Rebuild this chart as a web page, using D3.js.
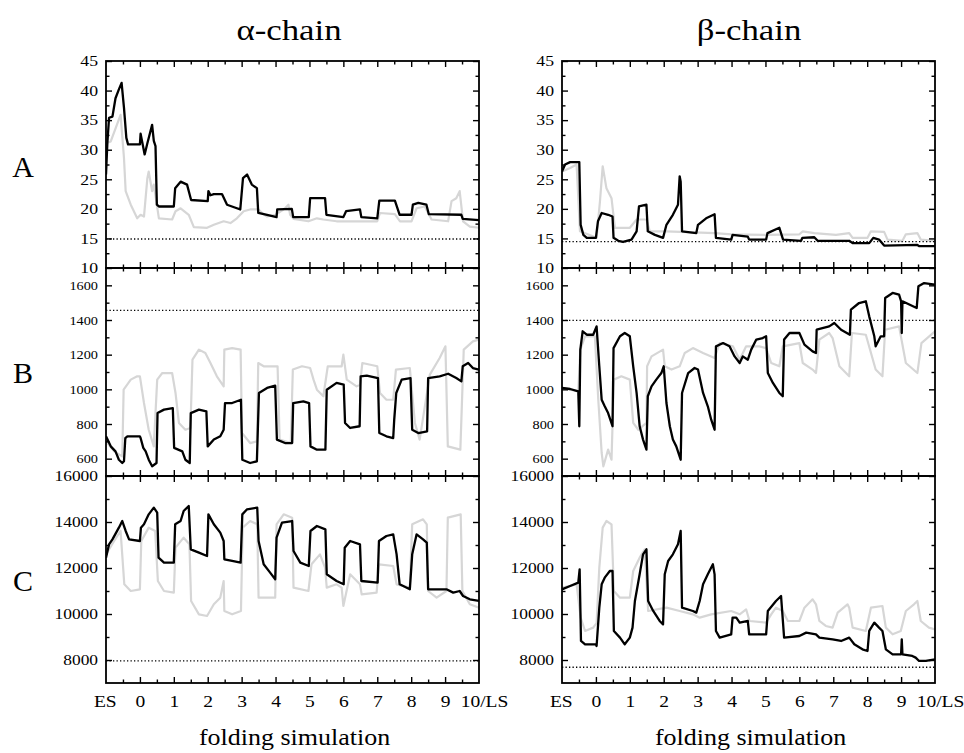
<!DOCTYPE html>
<html>
<head>
<meta charset="utf-8">
<script src="https://cdn.jsdelivr.net/npm/d3@7"></script>
<style>
  body { margin: 0; background: #fff; }
  svg text { font-family: "Liberation Serif", "Times New Roman", serif; fill: #000; }
</style>
</head>
<body>
<div id="chart"></div>
<script>
// x axis: ES = -1, folding simulations 0..9, LS = 10
const xTickValues = [-1, 0, 1, 2, 3, 4, 5, 6, 7, 8, 9, 10]
const xTickLabels = ['ES', '0', '1', '2', '3', '4', '5', '6', '7', '8', '9', '10/LS']
const xMinorTicks = [-0.5, 0.5, 1.5, 2.5, 3.5, 4.5, 5.5, 6.5, 7.5, 8.5, 9.5]

const rowLabels = ['A', 'B', 'C']
const chainTitles = ['α-chain', 'β-chain']

// y axes per row
const yDomainA = [10, 45]
const yTicksA = [10, 15, 20, 25, 30, 35, 40, 45]
const yMinorA = [12.5, 17.5, 22.5, 27.5, 32.5, 37.5, 42.5]
const yDomainB = [500, 1700]
const yTicksB = [600, 800, 1000, 1200, 1400, 1600]
const yMinorB = [700, 900, 1100, 1300, 1500]
const yDomainC = [7000, 16000]
const yTicksC = [8000, 10000, 12000, 14000, 16000]
const yMinorC = [9000, 11000, 13000, 15000]

// dotted reference levels [alpha, beta]
const refA = [14.9, 14.45]
const refB = [1456, 1398]
const refC = [7960, 7685]

// ---- alpha chain ----
const alphaA_black = [[-1.00,25.8],[-0.96,31.1],[-0.91,35.4],[-0.81,35.6],[-0.72,38.7],[-0.62,40.2],[-0.54,41.3],[-0.47,37.1],[-0.40,32.0],[-0.35,30.9],[0.00,30.9],[0.02,32.7],[0.14,29.2],[0.22,31.1],[0.36,34.2],[0.41,31.5],[0.46,30.6],[0.50,20.7],[0.56,20.4],[1.00,20.4],[1.04,23.5],[1.20,24.6],[1.39,24.1],[1.51,21.5],[2.00,21.3],[2.02,23.0],[2.08,22.3],[2.18,22.5],[2.42,22.5],[2.57,20.7],[2.86,20.1],[2.96,19.9],[3.04,25.2],[3.16,25.8],[3.30,24.1],[3.45,23.5],[3.49,19.3],[3.75,19.0],[4.03,18.6],[4.05,19.9],[4.48,20.0],[4.52,18.6],[4.98,18.6],[5.02,21.8],[5.46,21.8],[5.50,19.0],[6.00,18.6],[6.08,19.6],[6.49,19.9],[6.53,18.6],[7.00,18.4],[7.06,21.4],[7.52,21.4],[7.66,19.0],[8.01,19.0],[8.05,20.7],[8.21,21.0],[8.45,20.7],[8.52,19.1],[9.48,19.0],[9.52,18.3],[10.00,18.1]]
const alphaA_gray = [[-1.00,31.1],[-0.86,31.4],[-0.57,35.9],[-0.47,28.6],[-0.42,23.0],[-0.27,20.7],[-0.08,18.4],[0.02,19.0],[0.12,18.7],[0.22,25.2],[0.26,26.3],[0.36,23.0],[0.41,24.1],[0.56,18.4],[0.95,18.2],[1.05,19.6],[1.20,20.1],[1.44,19.0],[1.59,16.9],[1.98,16.8],[2.18,17.3],[2.47,17.9],[2.67,17.6],[2.86,18.4],[3.06,19.6],[3.25,19.9],[3.50,19.9],[3.60,19.3],[3.75,18.7],[4.00,19.0],[4.24,19.9],[4.38,20.7],[4.43,19.0],[4.53,18.3],[4.97,17.9],[5.22,18.4],[5.41,18.2],[5.80,17.9],[7.00,17.9],[7.08,19.3],[7.52,19.1],[7.67,17.9],[8.01,17.9],[8.16,20.1],[8.40,20.4],[8.60,18.2],[9.09,17.9],[9.19,21.3],[9.33,21.8],[9.43,23.0],[9.53,17.9],[9.73,17.0],[10.00,16.8]]
const alphaB_black = [[-1.00,729],[-0.86,671],[-0.72,642],[-0.62,594],[-0.52,575],[-0.47,585],[-0.43,719],[-0.37,729],[0.00,729],[0.02,719],[0.10,662],[0.17,642],[0.26,594],[0.36,556],[0.49,575],[0.52,863],[0.71,883],[0.97,892],[1.01,662],[1.25,642],[1.34,594],[1.47,575],[1.50,863],[1.74,883],[1.96,873],[2.00,671],[2.18,710],[2.37,729],[2.47,767],[2.51,921],[2.72,921],[2.98,940],[3.02,594],[3.25,575],[3.45,585],[3.51,979],[3.75,1008],[3.99,1021],[4.04,710],[4.28,690],[4.49,690],[4.52,921],[4.82,931],[4.99,921],[5.03,671],[5.22,652],[5.47,652],[5.51,998],[5.80,1037],[6.01,1027],[6.05,806],[6.20,777],[6.48,787],[6.51,1075],[6.69,1079],[7.02,1065],[7.06,748],[7.27,729],[7.47,719],[7.50,825],[7.56,979],[7.72,1056],[7.98,1065],[8.03,767],[8.21,748],[8.47,758],[8.50,1065],[8.84,1075],[9.09,1090],[9.33,1065],[9.48,1046],[9.52,1133],[9.68,1152],[9.82,1123],[10.00,1114]]
const alphaB_gray = [[-1.00,700],[-0.76,642],[-0.52,613],[-0.48,998],[-0.27,1056],[-0.08,1075],[0.00,1075],[0.12,921],[0.26,767],[0.41,671],[0.51,1056],[0.66,1094],[0.95,1094],[1.05,979],[1.15,806],[1.34,767],[1.49,777],[1.55,1171],[1.74,1229],[1.93,1210],[2.08,1152],[2.27,1075],[2.47,1017],[2.49,1229],[2.72,1238],[2.97,1229],[3.01,748],[3.25,690],[3.45,700],[3.49,1152],[3.65,1133],[4.06,1133],[4.12,710],[4.45,690],[4.51,1114],[4.78,1133],[5.02,1123],[5.12,1056],[5.22,998],[5.41,960],[5.54,1133],[5.95,1133],[6.00,1200],[6.10,1056],[6.39,1017],[6.49,1027],[6.56,1152],[7.00,1133],[7.08,979],[7.27,940],[7.47,940],[7.55,1114],[7.96,1123],[8.11,806],[8.25,710],[8.55,1085],[8.84,1181],[9.01,1248],[9.08,671],[9.45,652],[9.55,1229],[9.82,1277],[10.00,1287]]
const alphaC_black = [[-1.00,12450],[-0.91,13029],[-0.81,13247],[-0.62,13754],[-0.52,14043],[-0.42,13609],[-0.32,13247],[0.00,13174],[0.03,13754],[0.12,13899],[0.26,14333],[0.41,14623],[0.51,14406],[0.55,12450],[0.71,12232],[1.00,12232],[1.04,13899],[1.20,14043],[1.29,14478],[1.44,14696],[1.50,12812],[1.74,12667],[1.98,12522],[2.02,14333],[2.18,13899],[2.37,13536],[2.47,13174],[2.49,12377],[2.72,12305],[2.97,12232],[3.02,14333],[3.16,14551],[3.46,14623],[3.50,13174],[3.65,12160],[3.84,11797],[3.99,11508],[4.03,13319],[4.19,13971],[4.49,14043],[4.53,12739],[4.73,12232],[4.98,12087],[5.03,13609],[5.22,13826],[5.47,13681],[5.51,11725],[5.80,11435],[6.01,11290],[6.04,12884],[6.20,13174],[6.49,13029],[6.53,11435],[7.01,11363],[7.05,13174],[7.27,13391],[7.47,13464],[7.57,12594],[7.66,11290],[7.96,11073],[8.03,12594],[8.16,13464],[8.35,13247],[8.46,13102],[8.50,11073],[9.04,11073],[9.24,10928],[9.43,11000],[9.53,10783],[9.73,10638],[10.00,10566]]
const alphaC_gray = [[-1.00,12594],[-0.76,13174],[-0.57,13609],[-0.46,11290],[-0.27,11000],[0.00,11073],[0.04,13174],[0.26,13754],[0.45,13609],[0.53,11435],[0.71,11000],[1.00,10928],[1.05,12884],[1.29,13319],[1.46,13029],[1.51,10566],[1.74,9986],[1.98,9914],[2.18,10421],[2.37,10711],[2.47,11435],[2.49,10131],[2.72,9986],[2.98,10131],[3.03,13754],[3.25,14043],[3.46,13899],[3.50,10711],[3.99,10711],[4.03,13899],[4.24,14333],[4.49,14188],[4.53,11145],[4.97,11000],[5.06,12160],[5.31,12594],[5.46,12015],[5.51,11145],[5.80,11290],[5.95,11145],[6.00,10348],[6.20,11725],[6.49,11290],[6.54,10856],[6.98,10928],[7.05,12160],[7.47,12087],[7.57,11290],[7.96,11145],[8.03,13899],[8.35,14116],[8.46,13899],[8.50,11000],[8.75,10711],[9.04,11000],[9.08,14188],[9.46,14333],[9.51,11000],[9.73,10421],[10.00,10276]]

// ---- beta chain ----
const betaA_black = [[-1.00,26.3],[-0.91,27.5],[-0.76,27.9],[-0.49,27.9],[-0.45,17.3],[-0.37,15.6],[-0.27,15.1],[0.00,15.1],[0.06,17.9],[0.17,19.3],[0.36,19.0],[0.49,18.7],[0.52,15.1],[0.66,14.6],[0.80,14.4],[1.05,14.8],[1.20,16.2],[1.27,20.4],[1.49,20.7],[1.53,16.2],[1.74,15.6],[1.98,15.1],[2.08,17.3],[2.27,19.0],[2.42,20.7],[2.47,25.5],[2.50,24.6],[2.54,16.2],[2.96,15.9],[3.01,17.3],[3.25,18.4],[3.50,19.1],[3.54,15.1],[3.99,14.8],[4.03,15.6],[4.48,15.3],[4.52,14.8],[5.02,14.8],[5.06,15.9],[5.41,16.8],[5.52,14.8],[6.05,14.6],[6.09,15.1],[6.44,15.2],[6.54,14.6],[7.47,14.6],[7.57,14.2],[8.06,14.2],[8.18,15.1],[8.35,14.8],[8.50,13.8],[9.48,13.9],[9.53,13.7],[10.00,13.7]]
const betaA_gray = [[-1.00,26.3],[-0.76,26.9],[-0.57,27.5],[-0.47,16.2],[0.02,15.1],[0.12,21.3],[0.20,27.2],[0.31,23.5],[0.46,21.8],[0.56,16.8],[1.00,16.8],[1.20,18.2],[1.49,18.2],[1.59,16.2],[2.08,16.2],[3.50,15.9],[4.00,15.7],[5.00,15.6],[6.00,15.7],[6.10,16.2],[6.44,15.9],[7.08,15.6],[7.47,15.9],[7.57,15.1],[8.01,15.1],[8.11,16.2],[8.50,16.1],[8.60,14.8],[9.04,14.6],[9.14,15.7],[9.48,15.9],[9.58,14.8],[10.00,14.6]]
const betaB_black = [[-1.00,1008],[-0.76,1002],[-0.52,988],[-0.49,787],[-0.46,1229],[-0.39,1335],[-0.27,1315],[-0.08,1315],[0.02,1363],[0.10,1133],[0.17,940],[0.26,902],[0.36,863],[0.49,787],[0.52,1238],[0.71,1306],[0.85,1325],[1.00,1306],[1.10,1133],[1.20,979],[1.29,787],[1.39,710],[1.49,652],[1.53,960],[1.64,1017],[1.78,1056],[1.93,1094],[2.00,1133],[2.08,921],[2.18,787],[2.27,710],[2.37,671],[2.50,594],[2.54,979],[2.72,1094],[2.91,1123],[3.01,1114],[3.16,979],[3.30,902],[3.40,825],[3.50,767],[3.54,1248],[3.75,1267],[3.94,1248],[4.09,1190],[4.24,1152],[4.33,1190],[4.48,1171],[4.58,1229],[4.73,1287],[4.92,1296],[5.02,1306],[5.07,1094],[5.22,1037],[5.41,979],[5.51,960],[5.55,1287],[5.71,1325],[6.00,1325],[6.15,1258],[6.39,1219],[6.49,1210],[6.51,1344],[6.88,1363],[7.03,1383],[7.23,1344],[7.49,1315],[7.52,1460],[7.76,1498],[7.96,1508],[8.06,1421],[8.21,1306],[8.25,1248],[8.40,1306],[8.50,1306],[8.53,1527],[8.75,1556],[8.94,1546],[9.00,1508],[9.02,1325],[9.04,1508],[9.46,1469],[9.51,1594],[9.68,1613],[10.00,1604]]
const betaB_gray = [[-1.00,1008],[-0.52,988],[-0.46,1229],[-0.32,1306],[-0.03,1306],[0.07,940],[0.17,633],[0.22,556],[0.36,652],[0.46,594],[0.53,1056],[0.75,1075],[1.00,1056],[1.10,806],[1.25,767],[1.49,806],[1.51,1133],[1.64,1190],[1.98,1229],[2.03,1133],[2.23,1114],[2.47,1133],[2.62,1210],[2.86,1238],[3.16,1210],[3.50,1181],[3.65,1267],[4.04,1248],[4.24,1171],[4.43,1248],[4.82,1248],[5.02,1238],[5.17,1152],[5.41,1133],[5.51,1248],[6.00,1267],[6.10,1152],[6.39,1114],[6.49,1094],[6.59,1287],[6.88,1325],[6.98,1296],[7.18,1133],[7.47,1075],[7.55,1325],[7.96,1315],[8.25,1114],[8.45,1075],[8.53,1344],[8.94,1363],[9.14,1152],[9.48,1094],[9.60,1267],[10.00,1335]]
const betaC_black = [[-1.00,11073],[-0.76,11218],[-0.52,11363],[-0.48,11942],[-0.44,8827],[-0.32,8682],[0.00,8682],[0.02,8610],[0.10,10276],[0.17,11290],[0.26,11580],[0.41,11870],[0.49,11870],[0.53,9262],[0.71,8972],[0.85,8682],[1.00,8972],[1.08,9407],[1.15,10566],[1.29,11725],[1.39,12594],[1.49,12812],[1.54,10566],[1.69,10131],[1.88,9696],[1.98,9551],[2.03,11725],[2.13,12305],[2.27,12594],[2.42,13029],[2.50,13609],[2.54,10276],[2.86,10131],[2.96,10059],[3.06,10566],[3.16,11290],[3.30,11725],[3.45,12160],[3.50,11725],[3.54,9262],[3.65,8972],[3.99,9117],[4.03,9841],[4.14,9841],[4.24,9624],[4.48,9696],[4.52,9117],[5.02,9117],[5.07,10131],[5.31,10566],[5.46,10783],[5.55,8972],[6.00,9044],[6.20,9189],[6.49,9117],[6.59,8972],[6.98,8899],[7.23,8827],[7.47,8972],[7.62,8682],[7.86,8465],[8.01,8392],[8.06,9262],[8.21,9624],[8.35,9407],[8.45,9262],[8.55,8465],[8.75,8247],[9.00,8247],[9.02,8900],[9.04,8247],[9.33,8175],[9.43,8103],[9.53,7958],[9.73,7958],[10.00,8030]]
const betaC_gray = [[-1.00,11145],[-0.57,11290],[-0.45,9841],[-0.32,9262],[-0.08,9407],[0.02,9600],[0.10,12015],[0.20,13754],[0.31,14043],[0.46,13899],[0.53,11000],[0.71,10711],[1.00,10711],[1.10,11870],[1.29,12450],[1.44,12812],[1.54,10131],[2.08,10276],[2.47,10131],[2.86,9986],[3.06,9841],[3.40,9986],[3.99,10131],[4.24,9986],[4.43,10204],[4.53,9696],[5.02,9624],[5.17,9986],[5.31,10276],[5.51,10131],[5.66,9696],[6.00,9696],[6.15,10276],[6.39,10638],[6.49,10421],[6.59,9696],[6.78,9479],[6.98,9407],[7.13,10059],[7.42,10421],[7.47,10276],[7.57,9407],[7.96,9262],[8.11,10276],[8.45,10348],[8.55,9407],[8.75,9117],[8.99,9262],[9.14,10131],[9.38,10421],[9.48,10566],[9.58,9696],[9.82,9407],[10.00,9334]]

// ---- layout ----
const [width, height] = [964, 753]
const cols = [{ x0: 106, x1: 479, titleX: 289 }, { x0: 562, x1: 935, titleX: 749 }]
const rowsPx = [
    { top: 61, bottom: 268, labelY: 177, tickFont: 15, tickStretch: 1.18 },
    { top: 268, bottom: 476, labelY: 383, tickFont: 13, tickStretch: 1.1 },
    { top: 476, bottom: 683, labelY: 591, tickFont: 15, tickStretch: 1.16 }
]

const rowAxes = [
    { domain: yDomainA, major: yTicksA, minor: yMinorA, refs: refA },
    { domain: yDomainB, major: yTicksB, minor: yMinorB, refs: refB },
    { domain: yDomainC, major: yTicksC, minor: yMinorC, refs: refC }
]
const series = [
    [[alphaA_gray, alphaA_black], [betaA_gray, betaA_black]],
    [[alphaB_gray, alphaB_black], [betaB_gray, betaB_black]],
    [[alphaC_gray, alphaC_black], [betaC_gray, betaC_black]]
]

const serif = '"Liberation Serif", "Times New Roman", serif'

const svg = d3.select('#chart').append('svg')
    .attr('width', width)
    .attr('height', height)

// titles
svg.selectAll('.title')
    .data(chainTitles)
    .join('text')
    .attr('class', 'title')
    .attr('transform', (d, i) => `translate(${cols[i].titleX},40) scale(1.16,1)`)
    .attr('text-anchor', 'middle')
    .style('font-size', '30px')
    .text(d => d)

// row labels
svg.selectAll('.rowlabel')
    .data(rowLabels)
    .join('text')
    .attr('class', 'rowlabel')
    .attr('x', 23)
    .attr('y', (d, i) => rowsPx[i].labelY)
    .attr('text-anchor', 'middle')
    .style('font-size', '30px')
    .text(d => d)

const defs = svg.append('defs')

cols.forEach((col, ci) => {
    const x = d3.scaleLinear().domain([-1, 10]).range([col.x0, col.x1])

    rowsPx.forEach((row, ri) => {
        const ax = rowAxes[ri]
        const y = d3.scaleLinear().domain(ax.domain).range([row.bottom, row.top])
        const g = svg.append('g')
        const clipId = `clip-${ci}-${ri}`

        defs.append('clipPath').attr('id', clipId)
            .append('rect')
            .attr('x', col.x0).attr('y', row.top)
            .attr('width', col.x1 - col.x0).attr('height', row.bottom - row.top)

        const line = d3.line().x(d => x(d[0])).y(d => y(d[1]))
        const [grayData, blackData] = series[ri][ci]

        const plot = g.append('g').attr('clip-path', `url(#${clipId})`)

        plot.append('path')
            .attr('d', line(grayData))
            .attr('fill', 'none')
            .attr('stroke', '#d6d6d6')
            .attr('stroke-width', 2.2)
            .attr('stroke-linejoin', 'round')

        plot.append('line')
            .attr('x1', col.x0).attr('x2', col.x1)
            .attr('y1', y(ax.refs[ci])).attr('y2', y(ax.refs[ci]))
            .attr('stroke', '#000')
            .attr('stroke-width', 1.3)
            .attr('stroke-dasharray', '1.3,2.2')

        plot.append('path')
            .attr('d', line(blackData))
            .attr('fill', 'none')
            .attr('stroke', '#000')
            .attr('stroke-width', 2.3)
            .attr('stroke-linejoin', 'round')

        // ticks, all pointing inward
        const drawAxis = (axis, tx, ty) => {
            const a = g.append('g').attr('transform', `translate(${tx},${ty})`).call(axis)
            a.select('.domain').remove()
            a.selectAll('line').attr('stroke', '#000').attr('stroke-width', 1.4)
            return a
        }

        const left = drawAxis(d3.axisLeft(y).tickValues(ax.major).tickSize(-6).tickFormat(d3.format('d')), col.x0, 0)
        left.selectAll('text')
            .attr('x', -8 / row.tickStretch)
            .attr('transform', `scale(${row.tickStretch},1)`)
            .style('font-size', row.tickFont + 'px')
            .style('font-family', serif)
        drawAxis(d3.axisLeft(y).tickValues(ax.minor).tickSize(-3.5).tickFormat(''), col.x0, 0)
        drawAxis(d3.axisRight(y).tickValues(ax.major).tickSize(-6).tickFormat(''), col.x1, 0)
        drawAxis(d3.axisRight(y).tickValues(ax.minor).tickSize(-3.5).tickFormat(''), col.x1, 0)

        drawAxis(d3.axisTop(x).tickValues(xTickValues.slice(1, -1)).tickSize(-6).tickFormat(''), 0, row.top)
        drawAxis(d3.axisTop(x).tickValues(xMinorTicks).tickSize(-3.5).tickFormat(''), 0, row.top)
        const bottom = drawAxis(d3.axisBottom(x).tickValues(ri === 2 ? xTickValues : xTickValues.slice(1, -1))
            .tickSize(-6)
            .tickPadding(13)
            .tickFormat(ri === 2 ? d => xTickLabels[xTickValues.indexOf(d)] : ''), 0, row.bottom)
        bottom.selectAll('text')
            .attr('x', d => d === 10 ? 5 / 1.22 : (d === -1 ? -1 : 0))
            .attr('transform', 'scale(1.22,1)')
            .style('font-size', '16px')
            .style('font-family', serif)
        bottom.selectAll('.tick').filter(d => d === -1 || d === 10).select('line').remove()
        drawAxis(d3.axisBottom(x).tickValues(xMinorTicks).tickSize(-3.5).tickFormat(''), 0, row.bottom)

        // frame
        g.append('rect')
            .attr('x', col.x0).attr('y', row.top)
            .attr('width', col.x1 - col.x0).attr('height', row.bottom - row.top)
            .attr('fill', 'none')
            .attr('stroke', '#000')
            .attr('stroke-width', 1.8)
    })

    svg.append('text')
        .attr('transform', `translate(${(col.x0 + col.x1) / 2 + 2},745) scale(1.13,1)`)
        .attr('text-anchor', 'middle')
        .style('font-size', '23px')
        .text('folding simulation')
})
</script>
</body>
</html>
